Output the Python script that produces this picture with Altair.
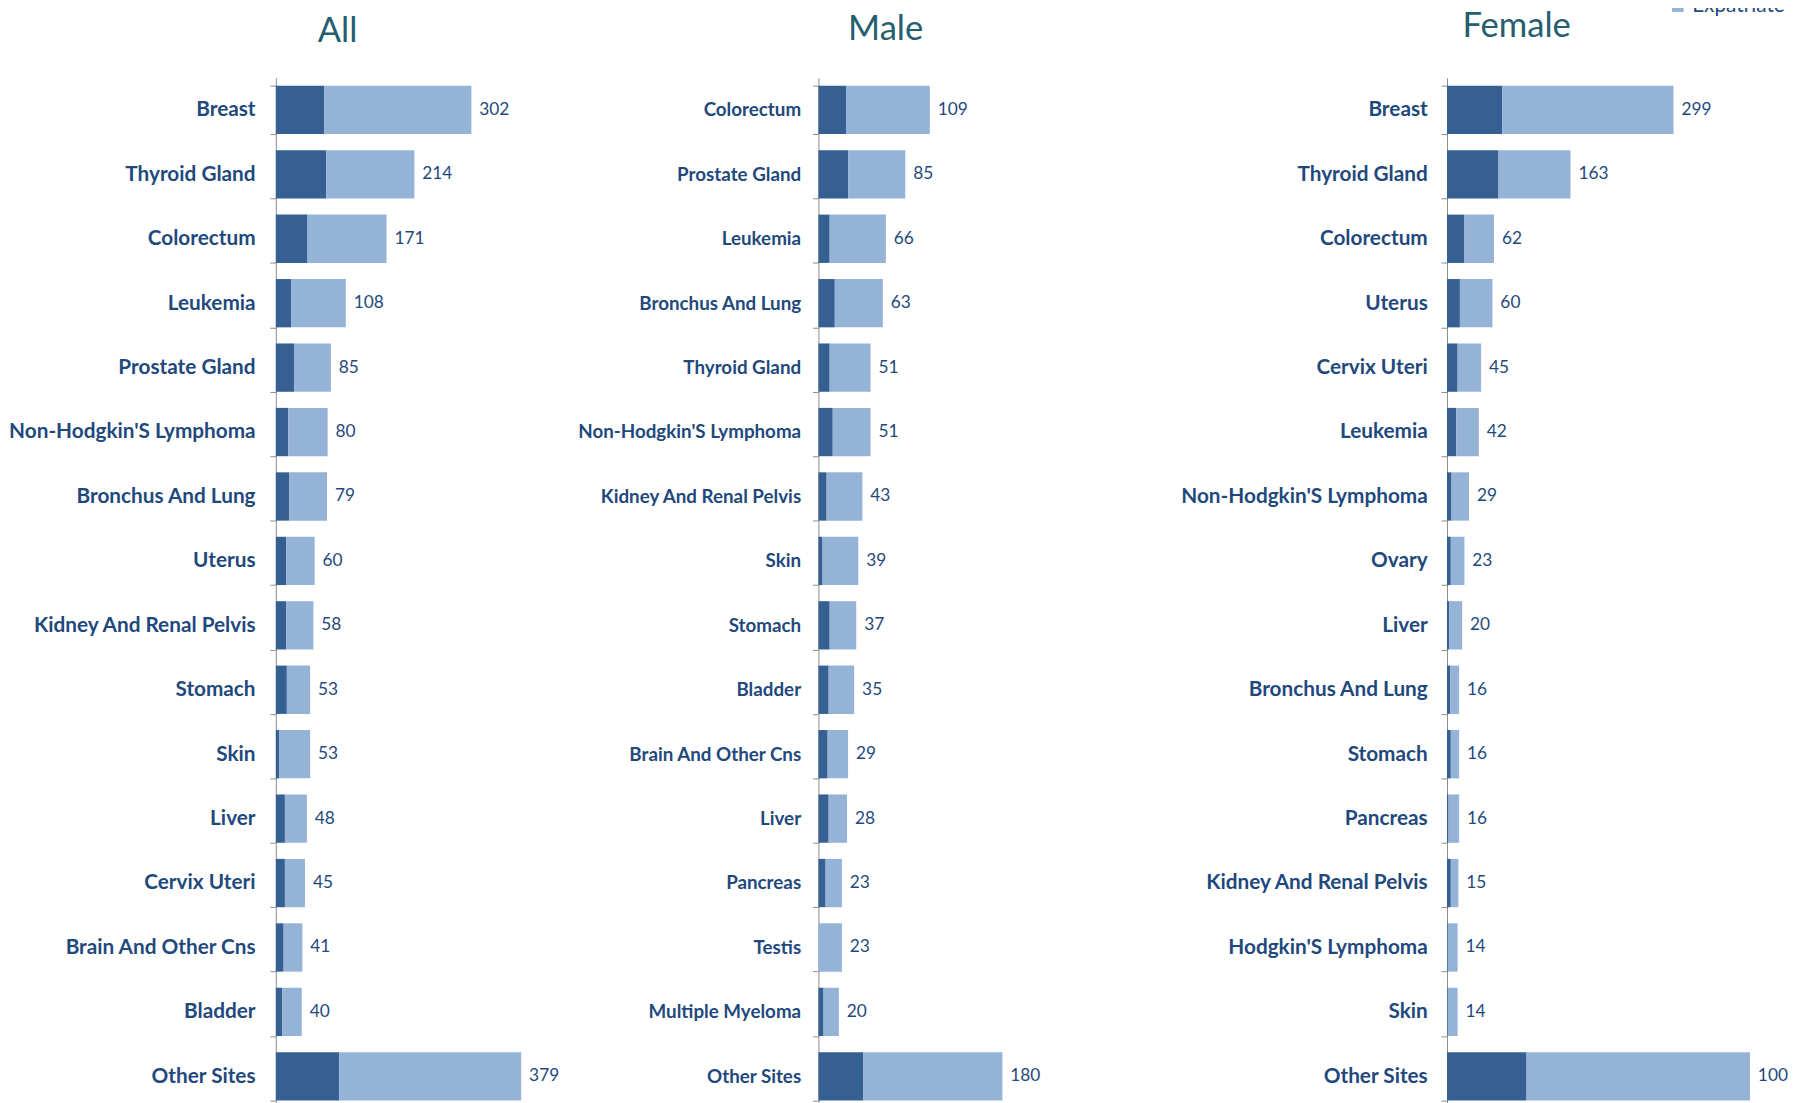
import altair as alt
import pandas as pd

# ---------------- data ----------------
all_sites = ["Breast", "Thyroid Gland", "Colorectum", "Leukemia", "Prostate Gland",
             "Non-Hodgkin'S Lymphoma", "Bronchus And Lung", "Uterus", "Kidney And Renal Pelvis",
             "Stomach", "Skin", "Liver", "Cervix Uteri", "Brain And Other Cns", "Bladder", "Other Sites"]
all_national = [75, 78, 49, 24, 28, 19, 21, 16, 16, 17, 5, 14, 14, 12, 10, 98]
all_expatriate = [227, 136, 122, 84, 57, 61, 58, 44, 42, 36, 48, 34, 31, 29, 30, 281]
all_labels = [302, 214, 171, 108, 85, 80, 79, 60, 58, 53, 53, 48, 45, 41, 40, 379]

male_sites = ["Colorectum", "Prostate Gland", "Leukemia", "Bronchus And Lung", "Thyroid Gland",
              "Non-Hodgkin'S Lymphoma", "Kidney And Renal Pelvis", "Skin", "Stomach", "Bladder",
              "Brain And Other Cns", "Liver", "Pancreas", "Testis", "Multiple Myeloma", "Other Sites"]
male_national = [27, 29, 11, 16, 11, 14, 8, 4, 11, 10, 9, 10, 7, 0, 5, 44]
male_expatriate = [82, 56, 55, 47, 40, 37, 35, 35, 26, 25, 20, 18, 16, 23, 15, 136]
male_labels = [109, 85, 66, 63, 51, 51, 43, 39, 37, 35, 29, 28, 23, 23, 20, 180]

female_sites = ["Breast", "Thyroid Gland", "Colorectum", "Uterus", "Cervix Uteri", "Leukemia",
                "Non-Hodgkin'S Lymphoma", "Ovary", "Liver", "Bronchus And Lung", "Stomach", "Pancreas",
                "Kidney And Renal Pelvis", "Hodgkin'S Lymphoma", "Skin", "Other Sites"]
female_national = [73, 68, 23, 17, 14, 12, 6, 5, 3, 4, 5, 2, 5, 1, 1, 105]
female_expatriate = [226, 95, 39, 43, 31, 30, 23, 18, 17, 12, 11, 14, 10, 13, 13, 295]
female_labels = [299, 163, 62, 60, 45, 42, 29, 23, 20, 16, 16, 16, 15, 14, 14, 100]

groups = ["National", "Expatriate"]

# ---------------- styling ----------------
DARK, LIGHT = "#366092", "#95B3D7"
TEXT = "#1F497D"
TITLE = "#245E6F"
FONT = "Lato"
HEIGHT = 1043


def panel(title, sites, national, expat, labels, label_size, label_pad, extent,
          width, xmax, title_offset, title_dx):
    rows = []
    for s, n, e in zip(sites, national, expat):
        rows.append({"site": s, "group": groups[0], "value": n, "ord": 0})
        rows.append({"site": s, "group": groups[1], "value": e, "ord": 1})
    bars_df = pd.DataFrame(rows)
    lab_df = pd.DataFrame({
        "site": sites,
        "end": [n + e for n, e in zip(national, expat)],
        "label": [str(v) for v in labels],
    })
    y = alt.Y(
        "site:N", sort=sites, title=None,
        scale=alt.Scale(paddingInner=0.25, paddingOuter=0.125),
        axis=alt.Axis(
            title=None, grid=False, domainColor="#8c8c8c", tickColor="#8c8c8c",
            tickSize=6, tickBand="extent", labelFont=FONT, labelFontWeight="bold",
            labelFontSize=label_size, labelColor=TEXT, labelPadding=label_pad,
            labelLimit=400, minExtent=extent, maxExtent=extent,
        ),
    )
    xs = alt.Scale(domain=[0, xmax], nice=False, zero=True)
    bars = alt.Chart(bars_df).mark_bar().encode(
        x=alt.X("value:Q", stack="zero", scale=xs, axis=None),
        y=y,
        color=alt.Color(
            "group:N",
            scale=alt.Scale(domain=groups, range=[DARK, LIGHT]),
            legend=alt.Legend(
                title=None, orient="none", legendX=1408, legendY=-107,
                direction="vertical", labelFont=FONT, labelFontSize=21,
                labelColor=TEXT, symbolType="square", symbolSize=140,
                symbolStrokeWidth=0, padding=0,
            ),
        ),
        order=alt.Order("ord:Q"),
    )
    text = alt.Chart(lab_df).mark_text(
        align="left", baseline="middle", dx=8, font=FONT, fontSize=17.5, color=TEXT
    ).encode(
        x=alt.X("end:Q", scale=xs, axis=None),
        y=y,
        text="label:N",
    )
    return alt.layer(bars, text).properties(
        width=width, height=HEIGHT,
        title=alt.TitleParams(
            text=title, font=FONT, fontSize=35, fontWeight="normal", color=TITLE,
            anchor="middle", frame="group", offset=title_offset, dx=title_dx,
        ),
    )


p_all = panel("All", all_sites, all_national, all_expatriate, all_labels,
              21, 15, 271, 305, 465.6, 18, -90)
p_male = panel("Male", male_sites, male_national, male_expatriate, male_labels,
               19, 12, 237, 366, 354, 22, -115)
p_female = panel("Female", female_sites, female_national, female_expatriate, female_labels,
                 21, 14, 265, 341, 445, 23, -100)

chart = alt.hconcat(p_all, p_male, p_female, spacing=0).resolve_scale(
    x="independent", y="independent", color="shared"
).properties(
    padding={"left": 0, "top": -43, "right": 0, "bottom": 0}
).configure_view(stroke=None)

chart.save("out.html", embed_options={"renderer": "svg", "actions": False})
